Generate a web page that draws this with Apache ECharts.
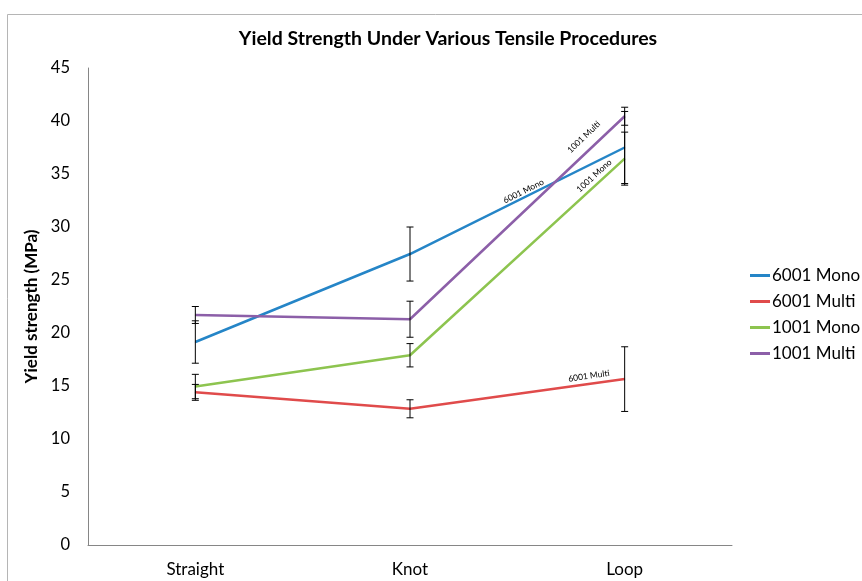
<!DOCTYPE html>
<html>
<head>
<meta charset="utf-8">
<script src="https://cdn.jsdelivr.net/npm/echarts@6/dist/echarts.min.js"></script>
<style>
html,body{margin:0;padding:0;background:#fff;}
#chart{width:862px;height:581px;}
</style>
</head>
<body>
<div id="chart"></div>
<script>
const categories = ['Straight', 'Knot', 'Loop'];
const seriesNames = ['6001 Mono', '6001 Multi', '1001 Mono', '1001 Multi'];
const mono6001 = [19.15, 27.45, 37.5];
const multi6001 = [14.4, 12.85, 15.65];
const mono1001 = [14.95, 17.9, 36.45];
const multi1001 = [21.7, 21.3, 40.45];
const errMono6001 = [2.0, 2.55, 3.4];
const errMulti6001 = [0.75, 0.85, 3.05];
const errMono1001 = [1.15, 1.1, 2.5];
const errMulti1001 = [0.8, 1.7, 0.85];
const yTicks = [0, 5, 10, 15, 20, 25, 30, 35, 40, 45];

const colors = ['#2585C7', '#E04B4B', '#8DC44F', '#8C5FA8'];
const values = [mono6001, multi6001, mono1001, multi1001];
const errors = [errMono6001, errMulti6001, errMono1001, errMulti1001];
// label style per series (rotation along last segment, offset in rotated frame)
const lblRot = [26.5, 8, 42.6, 43.6];
const lblOff = [[-110, -6], [-35, -8], [-34, -8], [-44, -13]];

const FONT = 'Lato';

const lineSeries = seriesNames.map((name, i) => ({
  name: name,
  type: 'line',
  symbol: 'circle',
  symbolSize: 1,
  showSymbol: true,
  lineStyle: { width: 2.5, color: colors[i] },
  itemStyle: { color: colors[i] },
  emphasis: { disabled: true },
  z: 3,
  data: values[i].map((v, j) => j === values[i].length - 1 ? {
    value: v,
    label: {
      show: true, position: 'inside', formatter: name,
      rotate: lblRot[i], offset: lblOff[i],
      fontFamily: FONT, fontSize: 8.5, color: '#000'
    }
  } : v)
}));

const errData = [];
values.forEach((arr, i) => arr.forEach((v, j) => {
  errData.push([j, v - errors[i][j], v + errors[i][j]]);
}));

const errSeries = {
  type: 'custom',
  name: 'err',
  z: 4,
  silent: true,
  data: errData,
  renderItem: function (params, api) {
    const x = api.value(0);
    const lo = api.coord([x, api.value(1)]);
    const hi = api.coord([x, api.value(2)]);
    const cw = 3.5;
    const st = { stroke: '#000', lineWidth: 1 };
    return {
      type: 'group',
      children: [
        { type: 'line', shape: { x1: lo[0], y1: lo[1], x2: hi[0], y2: hi[1] }, style: st },
        { type: 'line', shape: { x1: lo[0] - cw, y1: lo[1], x2: lo[0] + cw, y2: lo[1] }, style: st },
        { type: 'line', shape: { x1: hi[0] - cw, y1: hi[1], x2: hi[0] + cw, y2: hi[1] }, style: st }
      ]
    };
  }
};

const chart = echarts.init(document.getElementById('chart'), null, { renderer: 'canvas' });
chart.setOption({
  animation: false,
  backgroundColor: '#fff',
  color: colors,
  textStyle: { fontFamily: FONT },
  graphic: [{
    type: 'rect', left: 5, top: 12, z: -10,
    shape: { width: 900, height: 620 },
    style: { fill: 'none', stroke: '#b5b5b5', lineWidth: 1 }
  }],
  title: {
    text: 'Yield Strength Under Various Tensile Procedures',
    left: 443, top: 24, textAlign: 'center',
    textStyle: { fontFamily: FONT, fontSize: 19.5, fontWeight: 'bold', color: '#000' }
  },
  legend: {
    orient: 'vertical',
    left: 745, top: 262,
    itemWidth: 20, itemHeight: 3, itemGap: 9,
    icon: 'rect',
    data: seriesNames,
    textStyle: { fontFamily: FONT, fontSize: 17, color: '#000', padding: [0, 0, 0, -3] }
  },
  grid: { left: 88, right: 130, top: 68, bottom: 36 },
  xAxis: {
    type: 'category',
    data: categories,
    boundaryGap: true,
    axisLine: { lineStyle: { color: '#868686', width: 1 } },
    axisTick: { show: false },
    axisLabel: { fontFamily: FONT, fontSize: 17, color: '#000', margin: 16 },
    splitLine: { show: false }
  },
  yAxis: {
    type: 'value',
    min: yTicks[0], max: yTicks[yTicks.length - 1], interval: 5,
    name: 'Yield strength (MPa)',
    nameLocation: 'middle',
    nameGap: 45,
    nameRotate: 90,
    nameTextStyle: { fontFamily: FONT, fontSize: 17, fontWeight: 'bold', color: '#000' },
    axisLine: { show: true, lineStyle: { color: '#868686', width: 1 } },
    axisTick: { show: false },
    axisLabel: { fontFamily: FONT, fontSize: 16.5, color: '#000', margin: 18 },
    splitLine: { show: false }
  },
  series: lineSeries.concat([errSeries])
});
</script>
</body>
</html>
